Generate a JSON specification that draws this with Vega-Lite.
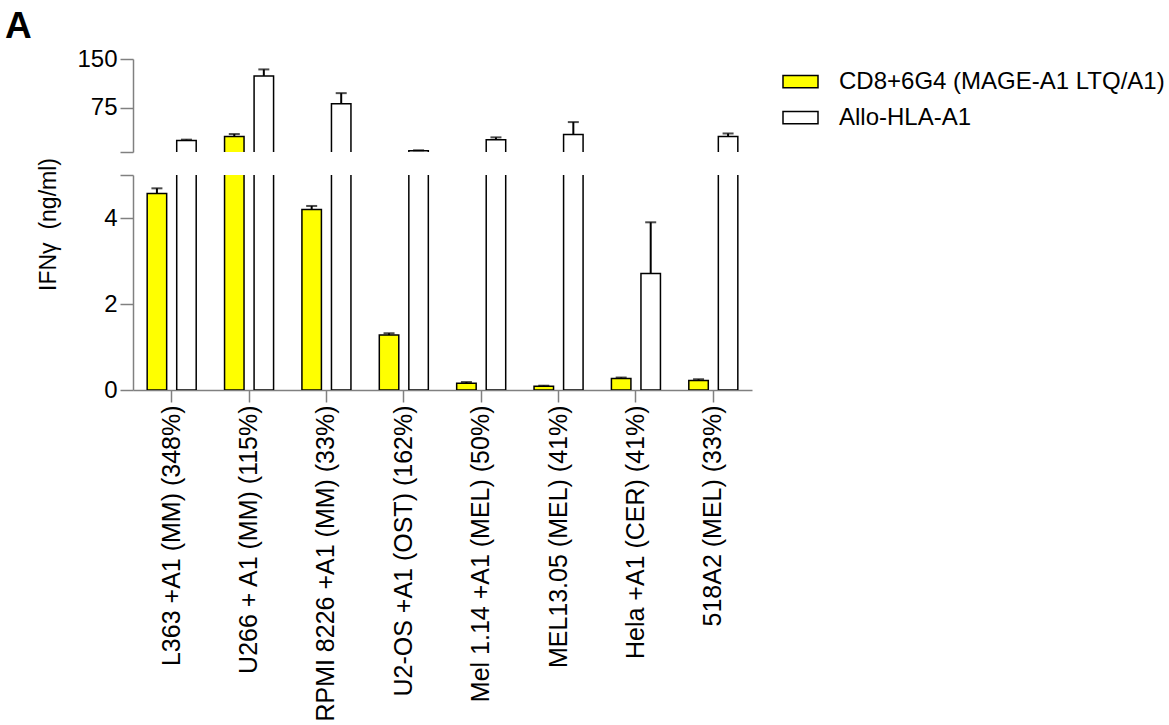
{
  "$schema": "https://vega.github.io/schema/vega-lite/v6.json",
  "padding": {"left": 5, "top": 8, "right": 5, "bottom": 5},
  "title": {"text": "A", "anchor": "start", "frame": "bounds", "fontSize": 37, "font": "Liberation Sans", "fontWeight": "bold", "dx": -32, "offset": -28, "baseline": "alphabetic", "color": "black"},
  "datasets": {
    "d": [
      {"cell": "L363 +A1 (MM) (348%)", "series": "CD8+6G4 (MAGE-A1 LTQ/A1)", "mean": 4.57, "upper": 4.69},
      {"cell": "L363 +A1 (MM) (348%)", "series": "Allo-HLA-A1", "mean": 24.8, "upper": 26},
      {"cell": "U266 + A1 (MM) (115%)", "series": "CD8+6G4 (MAGE-A1 LTQ/A1)", "mean": 31, "upper": 34.6},
      {"cell": "U266 + A1 (MM) (115%)", "series": "Allo-HLA-A1", "mean": 124, "upper": 134},
      {"cell": "RPMI 8226 +A1 (MM) (33%)", "series": "CD8+6G4 (MAGE-A1 LTQ/A1)", "mean": 4.2, "upper": 4.28},
      {"cell": "RPMI 8226 +A1 (MM) (33%)", "series": "Allo-HLA-A1", "mean": 81, "upper": 97.5},
      {"cell": "U2-OS +A1 (OST) (162%)", "series": "CD8+6G4 (MAGE-A1 LTQ/A1)", "mean": 1.28, "upper": 1.32},
      {"cell": "U2-OS +A1 (OST) (162%)", "series": "Allo-HLA-A1", "mean": 8.8, "upper": 9.6},
      {"cell": "Mel 1.14 +A1 (MEL) (50%)", "series": "CD8+6G4 (MAGE-A1 LTQ/A1)", "mean": 0.155, "upper": 0.185},
      {"cell": "Mel 1.14 +A1 (MEL) (50%)", "series": "Allo-HLA-A1", "mean": 25.8, "upper": 29.5},
      {"cell": "MEL13.05 (MEL) (41%)", "series": "CD8+6G4 (MAGE-A1 LTQ/A1)", "mean": 0.085, "upper": 0.1},
      {"cell": "MEL13.05 (MEL) (41%)", "series": "Allo-HLA-A1", "mean": 34, "upper": 53},
      {"cell": "Hela +A1 (CER) (41%)", "series": "CD8+6G4 (MAGE-A1 LTQ/A1)", "mean": 0.27, "upper": 0.29},
      {"cell": "Hela +A1 (CER) (41%)", "series": "Allo-HLA-A1", "mean": 2.71, "upper": 3.9},
      {"cell": "518A2 (MEL) (33%)", "series": "CD8+6G4 (MAGE-A1 LTQ/A1)", "mean": 0.22, "upper": 0.25},
      {"cell": "518A2 (MEL) (33%)", "series": "Allo-HLA-A1", "mean": 31, "upper": 35.5}
    ]
  },
  "data": {"name": "d"},
  "spacing": 4,
  "resolve": {"scale": {"y": "independent"}},
  "vconcat": [
    {
      "width": 619,
      "height": 93,
      "layer": [
        {
          "mark": {"type": "bar", "stroke": "black", "strokeWidth": 1.5, "clip": true},
          "encoding": {
            "x": {"field": "cell", "type": "nominal", "sort": null, "scale": {"paddingInner": 0, "paddingOuter": 0}, "axis": null},
            "xOffset": {"field": "series", "type": "nominal", "sort": ["CD8+6G4 (MAGE-A1 LTQ/A1)", "Allo-HLA-A1"], "scale": {"paddingInner": 0.34, "paddingOuter": 0.48}},
            "y": {"field": "mean", "type": "quantitative", "scale": {"domain": [7, 150], "nice": false, "zero": false},
              "axis": {"values": [7, 75, 150], "labelExpr": "datum.value == 7 ? '' : datum.label", "title": null, "minExtent": 60}},
            "y2": {"datum": 0},
            "color": {"field": "series", "type": "nominal", "sort": ["CD8+6G4 (MAGE-A1 LTQ/A1)", "Allo-HLA-A1"],
              "scale": {"domain": ["CD8+6G4 (MAGE-A1 LTQ/A1)", "Allo-HLA-A1"], "range": ["#FFFF00", "#FFFFFF"]},
              "legend": {"title": null, "orient": "right", "offset": 26, "padding": 4, "symbolType": "M-1,-0.35H1V0.35H-1Z", "symbolSize": 1225, "symbolStrokeColor": "black", "symbolStrokeWidth": 1.5, "labelFontSize": 24, "labelOffset": 20, "rowPadding": 5, "labelFont": "Liberation Sans", "labelColor": "black", "labelLimit": 500}}
          }
        },
        {
          "mark": {"type": "rule", "strokeWidth": 2, "color": "black", "clip": true},
          "encoding": {
            "x": {"field": "cell", "type": "nominal", "sort": null},
            "xOffset": {"field": "series", "type": "nominal", "sort": ["CD8+6G4 (MAGE-A1 LTQ/A1)", "Allo-HLA-A1"]},
            "y": {"field": "mean", "type": "quantitative"},
            "y2": {"field": "upper"}
          }
        },
        {
          "mark": {"type": "tick", "orient": "horizontal", "size": 11, "thickness": 2, "color": "black", "clip": true},
          "encoding": {
            "x": {"field": "cell", "type": "nominal", "sort": null},
            "xOffset": {"field": "series", "type": "nominal", "sort": ["CD8+6G4 (MAGE-A1 LTQ/A1)", "Allo-HLA-A1"]},
            "y": {"field": "upper", "type": "quantitative"}
          }
        }
      ]
    },
    {
      "width": 619,
      "height": 215,
      "layer": [
        {
          "mark": {"type": "bar", "stroke": "black", "strokeWidth": 1.5, "clip": true},
          "encoding": {
            "x": {"field": "cell", "type": "nominal", "sort": null, "scale": {"paddingInner": 0, "paddingOuter": 0},
              "axis": {"title": null, "labelAngle": -90, "labelLimit": 500, "labelFontSize": 25, "tickSize": 12, "labelPadding": 3}},
            "xOffset": {"field": "series", "type": "nominal", "sort": ["CD8+6G4 (MAGE-A1 LTQ/A1)", "Allo-HLA-A1"], "scale": {"paddingInner": 0.34, "paddingOuter": 0.48}},
            "y": {"field": "mean", "type": "quantitative", "scale": {"domain": [0, 5], "nice": false},
              "axis": {"values": [0, 2, 4, 5], "labelExpr": "datum.value == 5 ? '' : datum.label", "title": "IFNγ\u00a0\u00a0(ng/ml)", "titleX": -85, "titleY": 49, "titleAngle": -90, "titleAlign": "center", "titleBaseline": "middle", "titleFontSize": 23, "minExtent": 60}},
            "color": {"field": "series", "type": "nominal", "sort": ["CD8+6G4 (MAGE-A1 LTQ/A1)", "Allo-HLA-A1"]}
          }
        },
        {
          "mark": {"type": "rule", "strokeWidth": 2, "color": "black", "clip": true},
          "encoding": {
            "x": {"field": "cell", "type": "nominal", "sort": null},
            "xOffset": {"field": "series", "type": "nominal", "sort": ["CD8+6G4 (MAGE-A1 LTQ/A1)", "Allo-HLA-A1"]},
            "y": {"field": "mean", "type": "quantitative"},
            "y2": {"field": "upper"}
          }
        },
        {
          "mark": {"type": "tick", "orient": "horizontal", "size": 11, "thickness": 2, "color": "black", "clip": true},
          "encoding": {
            "x": {"field": "cell", "type": "nominal", "sort": null},
            "xOffset": {"field": "series", "type": "nominal", "sort": ["CD8+6G4 (MAGE-A1 LTQ/A1)", "Allo-HLA-A1"]},
            "y": {"field": "upper", "type": "quantitative"}
          }
        }
      ]
    }
  ],
  "config": {
    "font": "Liberation Sans",
    "view": {"stroke": null},
    "axis": {
      "labelFont": "Liberation Sans", "titleFont": "Liberation Sans", "labelColor": "black", "titleColor": "black",
      "titleFontWeight": "normal", "labelFontSize": 24, "grid": false,
      "domainColor": "#808080", "domainWidth": 1.5, "tickColor": "#808080", "tickWidth": 1.5, "tickSize": 13, "labelPadding": 3
    }
  }
}
